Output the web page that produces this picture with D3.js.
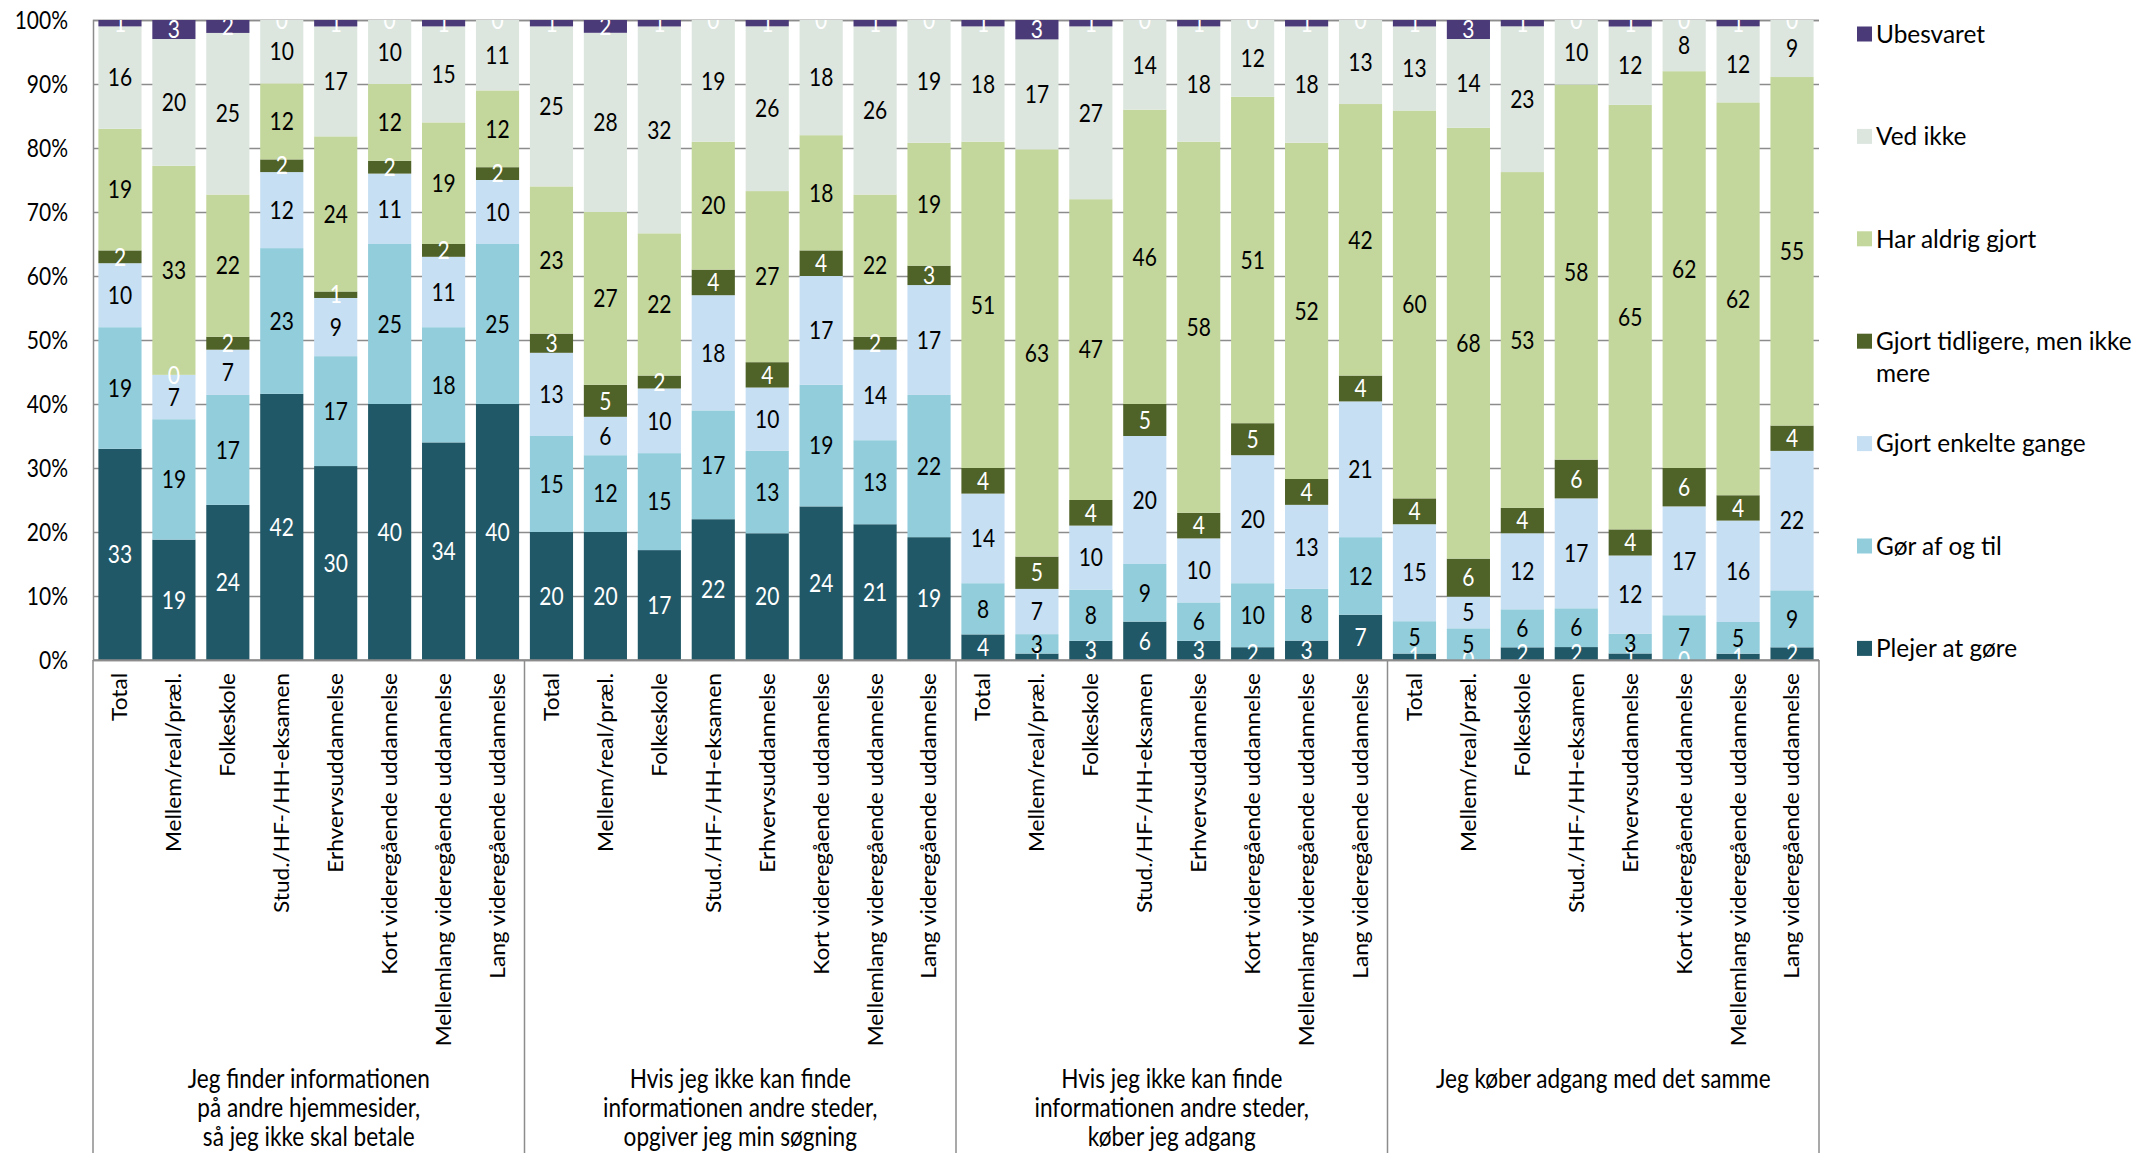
<!DOCTYPE html>
<html>
<head>
<meta charset="utf-8">
<script src="https://cdn.jsdelivr.net/npm/d3@7"></script>
<style>
  html, body { margin: 0; padding: 0; background: #fff; }
  svg { display: block; }
</style>
</head>
<body>
<svg id="chart" width="2141" height="1153"></svg>
<script>
// Statements (groups) and education levels (categories within each group)
const groups = [
  ["Jeg finder informationen", "på andre hjemmesider,", "så jeg ikke skal betale"],
  ["Hvis jeg ikke kan finde", "informationen andre steder,", "opgiver jeg min søgning"],
  ["Hvis jeg ikke kan finde", "informationen andre steder,", "køber jeg adgang"],
  ["Jeg køber adgang med det samme"]
];
const categories = [
  "Total", "Mellem/real/præl.", "Folkeskole", "Stud./HF-/HH-eksamen",
  "Erhvervsuddannelse", "Kort videregående uddannelse",
  "Mellemlang videregående uddannelse", "Lang videregående uddannelse"
];

// Answer shares in percent, 32 bars each (4 groups x 8 categories), bottom to top
const plejerAtGore = [
  33, 19, 24, 42, 30, 40, 34, 40,
  20, 20, 17, 22, 20, 24, 21, 19,
   4,  1,  3,  6,  3,  2,  3,  7,
   1,  0,  2,  2,  1,  0,  1,  2
];
const gorAfOgTil = [
  19, 19, 17, 23, 17, 25, 18, 25,
  15, 12, 15, 17, 13, 19, 13, 22,
   8,  3,  8,  9,  6, 10,  8, 12,
   5,  5,  6,  6,  3,  7,  5,  9
];
const gjortEnkelteGange = [
  10,  7,  7, 12,  9, 11, 11, 10,
  13,  6, 10, 18, 10, 17, 14, 17,
  14,  7, 10, 20, 10, 20, 13, 21,
  15,  5, 12, 17, 12, 17, 16, 22
];
const gjortTidligere = [
   2,  0,  2,  2,  1,  2,  2,  2,
   3,  5,  2,  4,  4,  4,  2,  3,
   4,  5,  4,  5,  4,  5,  4,  4,
   4,  6,  4,  6,  4,  6,  4,  4
];
const harAldrigGjort = [
  19, 33, 22, 12, 24, 12, 19, 12,
  23, 27, 22, 20, 27, 18, 22, 19,
  51, 63, 47, 46, 58, 51, 52, 42,
  60, 68, 53, 58, 65, 62, 62, 55
];
const vedIkke = [
  16, 20, 25, 10, 17, 10, 15, 11,
  25, 28, 32, 19, 26, 18, 26, 19,
  18, 17, 27, 14, 18, 12, 18, 13,
  13, 14, 23, 10, 12,  8, 12,  9
];
const ubesvaret = [
   1,  3,  2,  0,  1,  0,  1,  0,
   1,  2,  1,  0,  1,  0,  1,  0,
   1,  3,  1,  0,  1,  0,  1,  0,
   1,  3,  1,  0,  1,  0,  1,  0
];

const seriesNames = [
  "Plejer at gøre", "Gør af og til", "Gjort enkelte gange",
  "Gjort tidligere, men ikke mere", "Har aldrig gjort", "Ved ikke", "Ubesvaret"
];
const seriesValues = [plejerAtGore, gorAfOgTil, gjortEnkelteGange, gjortTidligere, harAldrigGjort, vedIkke, ubesvaret];
const yTicks = [0, 10, 20, 30, 40, 50, 60, 70, 80, 90, 100];

// Styling
const colors = ["#215867", "#92CDDC", "#C6DFF2", "#4F6228", "#C3D69B", "#DCE6DF", "#4B3A78"];
const labelColors = ["#fff", "#000", "#000", "#fff", "#000", "#000", "#fff"];
const FONT = "Lato, Carlito, 'Open Sans', sans-serif";
const STRETCH = 1.15; // text is drawn slightly taller than wide

const plot = { left: 93, top: 20, right: 1819, bottom: 660 };

// One row per bar
const rows = [];
groups.forEach((g, gi) => {
  categories.forEach((c, ci) => {
    const i = gi * categories.length + ci;
    const row = { key: gi + "|" + ci, gi, ci, cat: c };
    seriesNames.forEach((s, si) => { row[s] = seriesValues[si][i]; });
    rows.push(row);
  });
});

const stacked = d3.stack()
  .keys(seriesNames)
  .offset(d3.stackOffsetExpand)(rows);

const x = d3.scaleBand()
  .domain(rows.map(r => r.key))
  .range([plot.left, plot.right])
  .paddingInner(0.2)
  .paddingOuter(0.1);

const y = d3.scaleLinear().domain([0, 1]).range([plot.bottom, plot.top]);

const svg = d3.select("#chart");

svg.append("defs").append("clipPath").attr("id", "plotClip")
  .append("rect")
  .attr("x", plot.left).attr("y", plot.top)
  .attr("width", plot.right - plot.left).attr("height", plot.bottom - plot.top);

// Horizontal gridlines and y axis labels
const yAxis = d3.axisLeft(y)
  .tickValues(yTicks.map(t => t / 100))
  .tickFormat(d => Math.round(d * 100) + "%")
  .tickSize(-(plot.right - plot.left))
  .tickPadding(0);

const yg = svg.append("g")
  .attr("transform", `translate(${plot.left},0)`)
  .call(yAxis);
yg.select(".domain").attr("stroke", "#8c8c8c").attr("stroke-width", 1.5);
yg.selectAll(".tick line").attr("stroke", "#8c8c8c").attr("stroke-width", 1.5);
yg.selectAll(".tick text")
  .attr("x", null)
  .attr("transform", `translate(-25,0) scale(1,${STRETCH})`)
  .attr("dy", "0.36em")
  .attr("fill", "#000")
  .style("font-family", FONT)
  .style("font-size", "21px");

// Stacked bars
const layers = svg.append("g").selectAll("g")
  .data(stacked)
  .join("g")
  .attr("fill", (d, i) => colors[i]);

layers.selectAll("rect")
  .data(d => d)
  .join("rect")
  .attr("x", d => x(d.data.key))
  .attr("width", x.bandwidth())
  .attr("y", d => y(d[1]))
  .attr("height", d => y(d[0]) - y(d[1]));

// Value labels, clipped to the plot area
const labelLayer = svg.append("g").attr("clip-path", "url(#plotClip)");
stacked.forEach((layer, si) => {
  labelLayer.append("g")
    .selectAll("text")
    .data(layer)
    .join("text")
    .attr("transform", d =>
      `translate(${x(d.data.key) + x.bandwidth() / 2},${(y(d[0]) + y(d[1])) / 2}) scale(1,${STRETCH})`)
    .attr("dy", "0.36em")
    .attr("text-anchor", "middle")
    .attr("fill", labelColors[si])
    .style("font-family", FONT)
    .style("font-size", "21px")
    .text(d => d.data[layer.key]);
});

// Category axis line
svg.append("line")
  .attr("x1", plot.left).attr("x2", plot.right)
  .attr("y1", plot.bottom).attr("y2", plot.bottom)
  .attr("stroke", "#8c8c8c").attr("stroke-width", 1.5);

// Rotated category labels
svg.append("g").selectAll("text")
  .data(rows)
  .join("text")
  .attr("transform", d => `translate(${x(d.key) + x.bandwidth() / 2},673) rotate(-90) scale(1.1,1)`)
  .attr("dy", "0.36em")
  .attr("text-anchor", "end")
  .attr("fill", "#000")
  .style("font-family", FONT)
  .style("font-size", "20.6px")
  .text(d => d.cat);

// Group separators extending below the axis
const step = x.step();
const groupEdges = d3.range(groups.length + 1).map(k => plot.left + k * categories.length * step);
svg.append("g").selectAll("line")
  .data(groupEdges)
  .join("line")
  .attr("x1", d => d).attr("x2", d => d)
  .attr("y1", plot.bottom).attr("y2", 1153)
  .attr("stroke", "#8c8c8c").attr("stroke-width", 1.5);

// Group labels
svg.append("g").selectAll("g")
  .data(groups)
  .join("g")
  .each(function (lines, gi) {
    const cx = (groupEdges[gi] + groupEdges[gi + 1]) / 2;
    d3.select(this).selectAll("text")
      .data(lines)
      .join("text")
      .attr("transform", (d, li) => `translate(${cx},${1079 + li * 28.6}) scale(1,${STRETCH})`)
      .attr("dy", "0.36em")
      .attr("text-anchor", "middle")
      .attr("fill", "#000")
      .style("font-family", FONT)
      .style("font-size", "22.6px")
      .text(d => d);
  });

// Legend, top entry is the top segment
const legendItems = seriesNames.map((name, i) => ({ name, color: colors[i], i })).reverse();
const legend = svg.append("g");
legendItems.forEach((item, k) => {
  const cy = 34 + k * 102.4;
  legend.append("rect")
    .attr("x", 1857).attr("y", cy - 7.5)
    .attr("width", 15).attr("height", 15)
    .attr("fill", item.color);
  const lines = item.name === "Gjort tidligere, men ikke mere"
    ? ["Gjort tidligere, men ikke", "mere"] : [item.name];
  lines.forEach((ln, li) => {
    legend.append("text")
      .attr("x", 1876)
      .attr("y", cy + li * 32)
      .attr("dy", "0.36em")
      .attr("fill", "#000")
      .style("font-family", FONT)
      .style("font-size", "24.4px")
      .text(ln);
  });
});
</script>
</body>
</html>
